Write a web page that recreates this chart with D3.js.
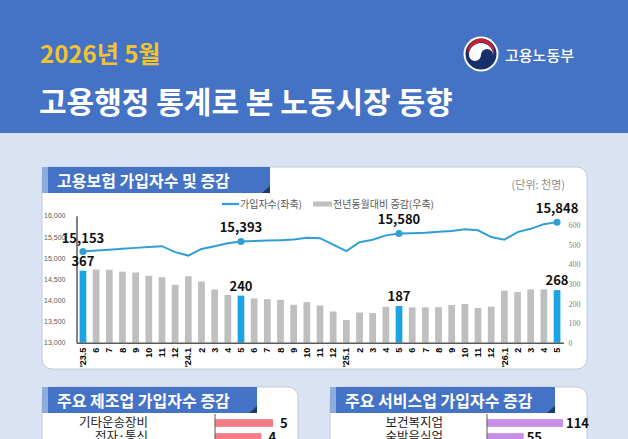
<!DOCTYPE html>
<html><head><meta charset="utf-8">
<script src="https://cdn.jsdelivr.net/npm/d3@7"></script>
<style>
body{margin:0;padding:0;background:#DAE3F3;}
svg{display:block;font-family:"Noto Sans CJK KR","Noto Sans",sans-serif;}
</style></head>
<body><svg id="c" width="628" height="439"></svg>
<script>
// ---------- data ----------
const months = ["'23.5","6","7","8","9","10","11","12","'24.1","2","3","4","5","6","7","8","9","10","11","12","'25.1","2","3","4","5","6","7","8","9","10","11","12","'26.1","2","3","4","5"];
const subscribers = [15153,15178,15197,15218,15240,15262,15280,15140,15058,15215,15280,15350,15393,15402,15412,15423,15437,15478,15468,15318,15165,15375,15432,15535,15580,15587,15595,15622,15640,15680,15655,15495,15434,15612,15690,15800,15848];
const yoyChange = [367,373,372,362,358,341,334,295,339,312,271,243,240,226,222,219,193,207,189,159,116,154,151,183,187,180,180,181,192,197,177,184,265,258,272,272,268];
const highlightIdx = [0,12,24,36];
const leftTicks = [13000,13500,14000,14500,15000,15500,16000];
const rightTicks = [0,100,200,300,400,500,600];
const mfgCats = ["기타운송장비","전자·통신"];
const mfgVals = [5,4];
const svcCats = ["보건복지업","숙박음식업"];
const svcVals = [114,55];

const svg = d3.select("#c");
const BLUE = "#4472C4";

// background & header
svg.append("rect").attr("width",628).attr("height",439).attr("fill","#DAE3F3");
svg.append("rect").attr("width",628).attr("height",133).attr("fill",BLUE);
svg.append("text").attr("x",40).attr("y",63).attr("fill","#F2C230")
  .attr("font-size",24).attr("font-weight",700).text("2026년 5월");
svg.append("text").attr("x",39).attr("y",113).attr("fill","#fff")
  .attr("font-size",30).attr("font-weight",700).text("고용행정 통계로 본 노동시장 동향");
// logo
const lg = svg.append("g").attr("transform","translate(481,54)");
lg.append("circle").attr("r",17.5).attr("fill","#fff");
lg.append("circle").attr("r",15.5).attr("fill","#17306A");
lg.append("path").attr("d","M-13.5,-2 A13.5,13.5 0 0 1 13.5,-2 L12,2 A12,12 0 0 0 -12,-1 Z").attr("fill","#C8202F");
lg.append("path").attr("d","M-12,1 A6,6 0 0 0 0,1 A6,6 0 0 1 12,1 A12,12 0 0 0 -12,1 Z").attr("fill","#fff");
svg.append("text").attr("x",505).attr("y",61).attr("fill","#fff")
  .attr("font-size",15).attr("font-weight",500).text("고용노동부");

// panels
function panel(x,y,w,h,tabW,title){
  svg.append("rect").attr("x",x).attr("y",y).attr("width",w).attr("height",h).attr("rx",10)
    .attr("fill","#fff").attr("stroke","#C3CAD8").attr("stroke-width",1);
  svg.append("rect").attr("x",x).attr("y",y).attr("width",tabW).attr("height",26).attr("fill",BLUE);
  svg.append("rect").attr("x",x).attr("y",y).attr("width",6).attr("height",26).attr("fill","#8FAADC");
  svg.append("path").attr("d",`M${x+tabW-8},${y+26} L${x+tabW},${y+19} L${x+tabW},${y+26} Z`).attr("fill","#203864");
  svg.append("text").attr("x",x+15).attr("y",y+19.5).attr("fill","#fff")
    .attr("font-size",16).attr("font-weight",700).text(title);
}
panel(42,167,545,202,228,"고용보험 가입자수 및 증감");
panel(42,387,256,80,215,"주요 제조업 가입자수 증감");
panel(330,387,257,80,225,"주요 서비스업 가입자수 증감");

svg.append("text").attr("x",565).attr("y",189).attr("text-anchor","end").attr("fill","#8C8C8C")
  .attr("font-size",11).text("(단위: 천명)");

// legend
svg.append("line").attr("x1",222).attr("x2",239).attr("y1",204).attr("y2",204).attr("stroke","#2E9FD5").attr("stroke-width",2.2);
svg.append("text").attr("x",240).attr("y",207.5).attr("font-size",10).attr("fill","#595959").text("가입자수(좌축)");
svg.append("rect").attr("x",313).attr("y",201.5).attr("width",19).attr("height",5).attr("fill","#BFBFBF");
svg.append("text").attr("x",333).attr("y",207.5).attr("font-size",10).attr("fill","#595959").text("전년동월대비 증감(우축)");

// scales
const x = d3.scaleBand().domain(months.map((m,i)=>i)).range([76.5,563.5]).paddingInner(0.49).paddingOuter(0.235);
const yL = d3.scaleLinear().domain([13000,16000]).range([342.7,215.7]);
const yR = d3.scaleLinear().domain([0,600]).range([342.7,225]);
const cx = i => x(i)+x.bandwidth()/2;

// bars
svg.append("g").selectAll("rect").data(yoyChange).join("rect")
  .attr("x",(d,i)=>x(i)).attr("width",x.bandwidth())
  .attr("y",d=>yR(d)).attr("height",d=>yR(0)-yR(d))
  .attr("fill",(d,i)=>highlightIdx.includes(i)?"#1CA3E3":"#BFBFBF");

// axes
const axL = svg.append("g").attr("transform","translate(76.5,0)")
  .call(d3.axisLeft(yL).tickValues(leftTicks).tickFormat(d3.format(",")).tickSize(0).tickPadding(11));
axL.select(".domain").attr("stroke","#595959").attr("stroke-width",1.5);
axL.selectAll("text").attr("font-family","Liberation Sans, sans-serif").attr("font-size",7).attr("fill","#595959");
const axR = svg.append("g").attr("transform","translate(563.5,0)")
  .call(d3.axisRight(yR).tickValues(rightTicks).tickSize(0).tickPadding(5));
axR.select(".domain").remove();
axR.selectAll("text").attr("font-family","Liberation Serif, serif").attr("font-size",8).attr("fill","#7F7F7F");
const axB = svg.append("g").attr("transform","translate(0,342.7)")
  .call(d3.axisBottom(x).tickFormat(i=>months[i]).tickSize(0).tickSizeOuter(0));
axB.select(".domain").attr("stroke","#595959").attr("stroke-width",1.5);
axB.selectAll("text").attr("transform","rotate(-90)").attr("text-anchor","end")
  .attr("x",-5).attr("y",0).attr("dy","0.35em")
  .attr("font-size",9).attr("font-weight",700).attr("fill","#000");

// line
svg.append("path").datum(subscribers)
  .attr("d",d3.line().x((d,i)=>cx(i)).y(d=>yL(d)))
  .attr("fill","none").attr("stroke","#2E9FD5").attr("stroke-width",2);
svg.append("g").selectAll("circle").data(highlightIdx).join("circle")
  .attr("cx",i=>cx(i)).attr("cy",i=>yL(subscribers[i])).attr("r",3.5).attr("fill","#2E9FD5");

// labels
svg.append("g").selectAll("text").data(highlightIdx).join("text")
  .attr("x",i=>cx(i)).attr("y",i=>yL(subscribers[i])-9).attr("text-anchor","middle")
  .attr("font-size",13).attr("font-weight",700).attr("fill","#111")
  .text(i=>d3.format(",")(subscribers[i]));
svg.append("g").selectAll("text").data(highlightIdx).join("text")
  .attr("x",i=>cx(i)).attr("y",i=>yR(yoyChange[i])-5).attr("text-anchor","middle")
  .attr("font-size",13).attr("font-weight",700).attr("fill","#111")
  .text(i=>yoyChange[i]);

// bottom bar charts
function hbars(cats,vals,axisX,maxPx,maxVal,color,labelRight,gap){
  const xs = d3.scaleLinear().domain([0,maxVal]).range([axisX,axisX+maxPx]);
  const ys = d3.scaleBand().domain(cats).range([412.85,447.15]).paddingInner(0.45).paddingOuter(0.45);
  const g = svg.append("g");
  g.selectAll("rect").data(vals).join("rect")
    .attr("x",xs(0)).attr("y",(d,i)=>ys(cats[i])).attr("height",ys.bandwidth())
    .attr("width",d=>xs(d)-xs(0)).attr("fill",color);
  g.append("line").attr("x1",axisX).attr("x2",axisX).attr("y1",414).attr("y2",450).attr("stroke","#595959");
  g.selectAll("text.c").data(cats).join("text").attr("class","c")
    .attr("x",labelRight).attr("y",d=>ys(d)+ys.bandwidth()/2).attr("dy","0.35em")
    .attr("text-anchor","end").attr("font-size",12.5).attr("fill","#222").text(d=>d);
  g.selectAll("text.v").data(vals).join("text").attr("class","v")
    .attr("x",d=>xs(d)+gap).attr("y",(d,i)=>ys(cats[i])+ys.bandwidth()/2).attr("dy","0.35em")
    .attr("font-size",13).attr("font-weight",700).attr("fill","#111").text(d=>d);
}
hbars(mfgCats,mfgVals,215,58,5,"#F47C84",148,7);
hbars(svcCats,svcVals,487,76,114,"#C98FE8",443,3);
</script></body></html>
